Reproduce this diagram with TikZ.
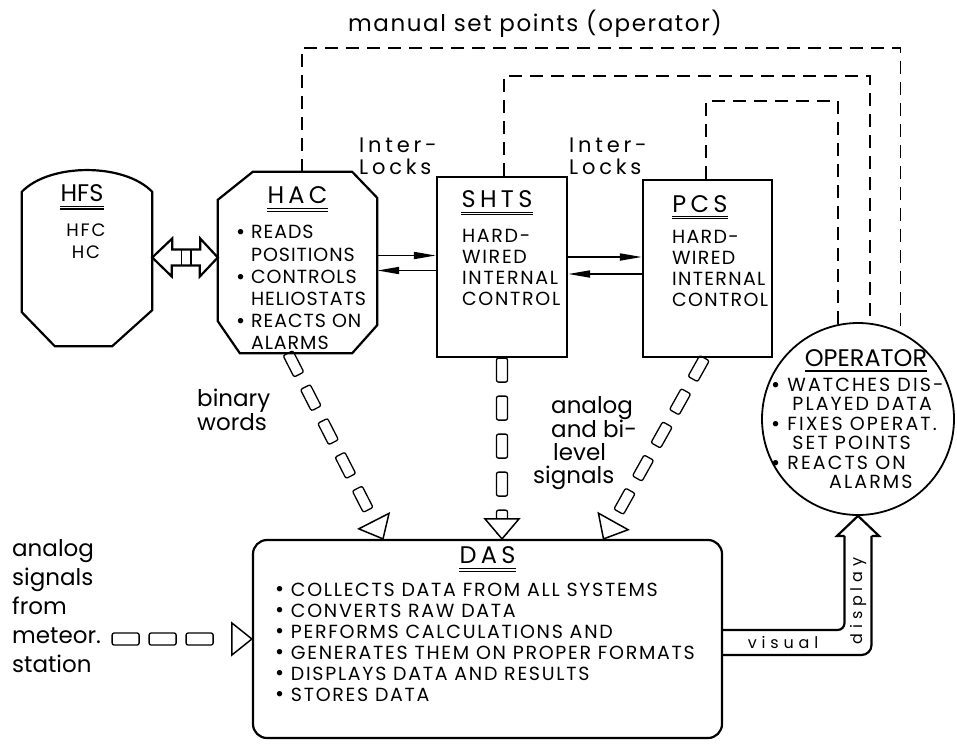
\documentclass[tikz,border=0pt]{standalone}
\usepackage{fontspec}
\setmainfont{Poppins}
\usetikzlibrary{arrows.meta, positioning, calc, decorations.markings}
\newcommand\blt{\raisebox{-0.8pt}{\fontsize{22}{0}\selectfont\textbullet}}
\newcommand\hang{\hphantom{\blt\ }}
\tikzset{
  outline/.style={draw, line width=2.2pt},
  panel/.style={rectangle, draw, line width=2.2pt, inner sep=0pt},
  ghost/.style={rectangle, inner sep=0pt},
  title/.style={font=\fontsize{24}{26}\selectfont\addfontfeature{LetterSpace=18}, inner sep=0pt},
  body/.style={font=\fontsize{19}{#1}\selectfont\addfontfeature{LetterSpace=9},
               align=left, inner sep=0pt, anchor=north west},
  lab/.style={font=\fontsize{23}{#1}\selectfont, align=left, inner sep=0pt, anchor=north west},
  small/.style={font=\fontsize{16}{18}\selectfont\addfontfeature{LetterSpace=30}, inner sep=0pt},
  dul/.style={double, double distance=1.4pt, line width=1.1pt},
  lock/.style={-{Triangle[length=22pt, width=7pt]}, line width=1.8pt},
  setpt/.style={line width=1.4pt, dash pattern=on 13pt off 8pt},
  cell/.style={line width=1.3pt, rounded corners=2pt},
  head/.style={line width=1.5pt, fill=white},
  cellflow/.style={decoration={markings,
      mark=between positions 12pt and -15pt step 38pt with
        {\draw[cell] (-12pt,-5.5pt) rectangle (12pt,5.5pt);},
      mark=at position 1 with
        {\draw[head] (-20pt,-17pt) -- (0pt,0pt) -- (-20pt,17pt) -- cycle;}},
    postaction=decorate},
  metflow/.style={decoration={markings,
      mark=between positions 24.5pt and -30pt step 37pt with
        {\draw[cell] (-13.5pt,-6pt) rectangle (13.5pt,6pt);},
      mark=at position 1 with
        {\draw[head] (-20pt,-16pt) -- (0pt,0pt) -- (-20pt,16pt) -- cycle;}},
    postaction=decorate},
}
\begin{document}
\begin{tikzpicture}[x=1pt, y=-1pt]
\useasboundingbox (0,0) rectangle (957,744);

% subsystems
\node[ghost, minimum width=130pt, minimum height=177pt] (hfs) at (87,257.5) {};
\node[ghost, minimum width=159pt, minimum height=181pt] (hac) at (297.5,262.5) {};
\node[panel, minimum width=130pt, minimum height=180pt] (shts) at (502,267) {};
\node[panel, minimum width=129pt, minimum height=177pt] (pcs) at (707.5,268.5) {};
\node[panel, rounded corners=14pt, minimum width=469pt, minimum height=198pt] (das) at (487.5,639) {};
\node[circle, draw, line width=1.8pt, minimum size=192pt, inner sep=0pt] (op) at (858,419) {};

\draw[outline] ([yshift=-23pt]hfs.north west)
  .. controls ([xshift=28pt, yshift=6pt]hfs.north west) and ([xshift=-28pt, yshift=6pt]hfs.north east)
  .. ([yshift=-23pt]hfs.north east) -- ([yshift=36pt]hfs.south east) -- ([xshift=-40pt]hfs.south east)
  -- ([xshift=33pt]hfs.south west) -- ([yshift=34pt]hfs.south west) -- cycle;
\draw[outline] ([xshift=35pt]hac.north west) -- ([xshift=-25pt]hac.north east)
  -- ([yshift=-26pt]hac.north east) -- ([yshift=28pt]hac.south east) -- ([xshift=-25pt]hac.south east)
  -- ([xshift=22pt]hac.south west) -- ([yshift=32pt]hac.south west) -- ([yshift=-28pt]hac.north west) -- cycle;

% titles
\node[inner sep=0pt, font=\fontsize{24}{26}\selectfont] (hfst) at (82,193) {HFS};
\node[title] (hact) at ([yshift=-23pt]hac.north) {HAC};
\node[title] (shtst) at ([xshift=-5pt, yshift=-23pt]shts.north) {SHTS};
\node[title] (pcst) at ([xshift=-7.5pt, yshift=-25pt]pcs.north) {PCS};
\node[title] (dast) at ([yshift=-16.5pt]das.north) {DAS};
\node[inner sep=0pt, font=\fontsize{24}{26}\selectfont] (opt) at ([xshift=8pt, yshift=-36pt]op.north) {OPERATOR};
\foreach \t/\d in {hfst/6, hact/6.5, shtst/6, pcst/5, dast/6}
  \draw[dul] ([yshift=-\d pt]\t.south west) -- ([yshift=-\d pt]\t.south east);
\draw[line width=2.5pt] ([yshift=-4pt]opt.south west) -- ([yshift=-4pt]opt.south east);

% contents
\node[body=22, anchor=north, align=center, font=\fontsize{18}{22}\selectfont\addfontfeature{LetterSpace=10}]
  (hfsb) at ([xshift=-1pt, yshift=-54.5pt]hfs.north) {HFC\\HC};
\node[body=22.2, font=\fontsize{19}{22.2}\selectfont\addfontfeature{LetterSpace=5}] (hacb)
  at ([xshift=18pt, yshift=-53.5pt]hac.north west)
  {\blt\ READS\\\hang POSITIONS\\\blt\ CONTROLS\\\hang HELIOSTATS\\\blt\ REACTS ON\\\hang ALARMS};
\node[body=21] (shtsb) at ([xshift=26pt, yshift=-53.5pt]shts.north west) {HARD-\\WIRED\\INTERNAL\\CONTROL};
\node[body=21, font=\fontsize{19}{21}\selectfont\addfontfeature{LetterSpace=7}] (pcsb)
  at ([xshift=30pt, yshift=-51.5pt]pcs.north west) {HARD-\\WIRED\\INTERNAL\\CONTROL};
\node[body=21] (dasb) at ([xshift=23pt, yshift=-43.5pt]das.north west)
  {\blt\ COLLECTS DATA FROM ALL SYSTEMS\\\blt\ CONVERTS RAW DATA\\
   \blt\ PERFORMS CALCULATIONS AND\\\blt\ GENERATES THEM ON PROPER FORMATS\\
   \blt\ DISPLAYS DATA AND RESULTS\\\blt\ STORES DATA};
\node[body=19.5, font=\fontsize{19}{19.5}\selectfont\addfontfeature{LetterSpace=11}] (opb)
  at ([xshift=-87pt, yshift=-55.5pt]op.north)
  {\blt\ WATCHES DIS-\\\hang\hspace*{5pt}PLAYED DATA\\\blt\ FIXES OPERAT.\\
   \hang\hspace*{5pt}SET POINTS\\\blt\ REACTS ON\\\hspace*{58pt}ALARMS};

% labels
\node[lab=23, anchor=base, font=\fontsize{23}{23}\selectfont\addfontfeature{LetterSpace=7}] (manual)
  at (535,31.5) {manual set points (operator)};
\node[lab=22, font=\fontsize{21}{22}\selectfont\addfontfeature{LetterSpace=18}] (lock1) at (359,138) {Inter-\\Locks};
\node[lab=22, font=\fontsize{21}{22}\selectfont\addfontfeature{LetterSpace=18}] (lock2) at (569,138) {Inter-\\Locks};
\node[lab=22] (binary) at (197,389) {binary\\words};
\node[lab=23] (analog) at (533,396)
  {\hspace*{18pt}analog\\\hspace*{18pt}and bi-\\\hspace*{20pt}level\\signals};
\node[lab=29] (meteo) at (12,539) {analog\\signals\\from\\meteor.\\station};

% links
\draw[outline] (hfs.east) -- ++(20,-19) -- ++(0,11) -- ++(28,0) -- ++(0,-11) -- (hfs.east -| hac.west)
  -- ++(-18,19) -- ++(0,-11) -- ++(-28,0) -- ++(0,11) -- cycle;
\foreach \i in {1,2}
  \draw[line width=1.3pt] ($(hfs.east)+(20+9.33*\i,-8.5)$) -- ++(0,16);
\draw[lock] ([yshift=7pt]hac.east) -- ([yshift=7pt]hac.east -| shts.west);
\draw[lock] ([yshift=-8pt]hac.east -| shts.west) -- ([yshift=-8pt]hac.east);
\draw[lock] ([yshift=10pt]shts.east) -- ([yshift=10pt]shts.east -| pcs.west);
\draw[lock] ([yshift=-7pt]shts.east -| pcs.west) -- ([yshift=-7pt]shts.east);

\path[cellflow] ([xshift=-9.5pt]hac.south) -- ([xshift=-104.5pt]das.north);
\path[cellflow] (shts.south) -- (shts.south |- das.north);
\path[cellflow] ([xshift=-3pt]pcs.south) -- ([xshift=116pt]das.north);
\path[metflow] (meteo.east |- das.west) -- (das.west);

% manual set points
\coordinate (top1) at (0,48);
\coordinate (top2) at (0,76);
\coordinate (top3) at (0,101);
\draw[setpt] ([xshift=4.5pt]hac.north) |- (op.64 |- top1) -- (op.64);
\draw[setpt] ([xshift=2pt]shts.north) |- (op.83 |- top2) -- (op.83);
\draw[setpt] ([xshift=-1.5pt]pcs.north) |- (op.102 |- top3) -- (op.102);

% visual display
\draw[outline, rounded corners=7pt] ([yshift=9pt]das.east) -| ([xshift=-13.5pt, yshift=-20pt]op.south);
\draw[outline, rounded corners=10pt] ([xshift=13.5pt, yshift=-20pt]op.south) |- ([yshift=-16pt]das.east);
\draw[outline] ([xshift=-13.5pt, yshift=-20pt]op.south) -- ([xshift=-21pt, yshift=-20pt]op.south)
  -- (op.south) -- ([xshift=21pt, yshift=-20pt]op.south) -- ([xshift=13.5pt, yshift=-20pt]op.south);
\node[small] (visual) at ($(das.east)+(60,3.5)$) {visual};
\node[small, rotate=90] (display) at ($(op.south)+(0.5,85)$) {display};
\end{tikzpicture}
\end{document}
